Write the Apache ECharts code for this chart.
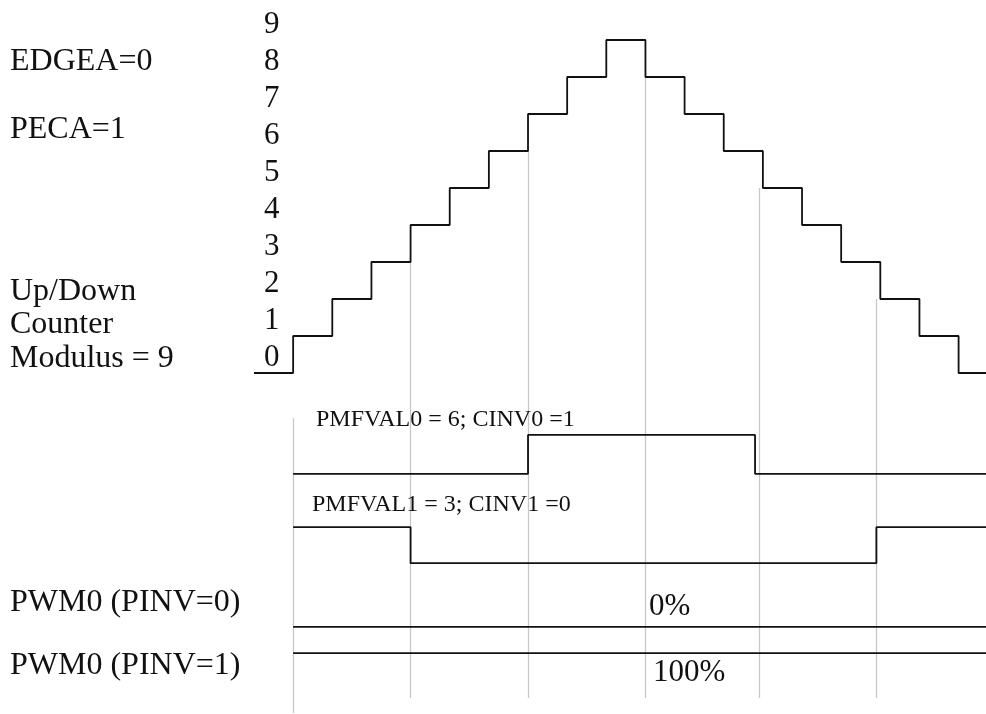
<!DOCTYPE html>
<html>
<head>
<meta charset="utf-8">
<script src="https://cdn.jsdelivr.net/npm/echarts@6/dist/echarts.min.js"></script>
<style>
  body { margin: 0; background: #fff; }
  #main { width: 986px; height: 714px; }
</style>
</head>
<body>
<div id="main"></div>
<script>
// counter (up/down, modulus 9)
var counterTimes = [-1, 0, 1, 2, 3, 4, 5, 6, 7, 8, 9, 10, 11, 12, 13, 14, 15, 16, 17, 17.7];
var counterLevels = [0, 1, 2, 3, 4, 5, 6, 7, 8, 9, 8, 7, 6, 5, 4, 3, 2, 1, 0, 0];
var counterTicks = ["0", "1", "2", "3", "4", "5", "6", "7", "8", "9"];

// grey marker lines: time and the counter level they start from
var markTimes = [3, 6, 9, 11.9, 14.9];
var markLevels = [3, 6, 8, 5, 2];

// channel outputs (0/1)
var pmf0Times = [0, 6, 11.8, 17.7];
var pmf0Bits = [0, 1, 0, 0];
var pmf1Times = [0, 3, 14.9, 17.7];
var pmf1Bits = [1, 0, 1, 1];
var pwmTimes = [0, 17.7];
var pwm0Bits = [0, 0];   // PINV=0 -> 0%
var pwm1Bits = [1, 1];   // PINV=1 -> 100%

var serif = "Liberation Serif";
var black = "#111";

function zipRow(times, bits, base, amp) {
  return times.map(function (t, i) { return [t, base + bits[i] * amp]; });
}

var myChart = echarts.init(document.getElementById("main"));

var greyTop = markTimes.map(function (t, i) {
  return { coords: [[t, markLevels[i]], [t, 0]] };
});
var greyBottom = markTimes.map(function (t) {
  return { coords: [[t, 9.2], [t, 0.43]] };
});
greyBottom.push({ coords: [[0, 7.98], [0, 0.03]] });

function stepLine(data, xi) {
  return {
    type: "line",
    xAxisIndex: xi,
    yAxisIndex: xi,
    step: "end",
    symbol: "none",
    clip: false,
    z: 5,
    lineStyle: { color: black, width: 1.8 },
    data: data
  };
}

function textEl(text, x, y, size) {
  return {
    type: "text",
    x: x,
    y: y,
    z: 10,
    style: {
      text: text,
      fontFamily: serif,
      fontSize: size,
      fill: black,
      verticalAlign: "middle"
    }
  };
}

var option = {
  animation: false,
  backgroundColor: "#fff",
  grid: [
    { left: 254, top: 40, width: 732, height: 333 },
    { left: 254, top: 373, width: 732, height: 341 }
  ],
  xAxis: [
    { gridIndex: 0, type: "value", min: -1, max: 17.7, show: false },
    { gridIndex: 1, type: "value", min: -1, max: 17.7, show: false }
  ],
  yAxis: [
    {
      gridIndex: 0,
      type: "value",
      min: 0,
      max: 9,
      interval: 1,
      axisLine: { show: false },
      axisTick: { show: false },
      splitLine: { show: false },
      axisLabel: {
        inside: true,
        margin: 10,
        fontFamily: serif,
        fontSize: 31,
        lineHeight: 31,
        color: black,
        verticalAlign: "bottom",
        formatter: function (v) { return counterTicks[v]; }
      }
    },
    { gridIndex: 1, type: "value", min: 0, max: 9.2, show: false }
  ],
  series: [
    {
      type: "lines",
      coordinateSystem: "cartesian2d",
      xAxisIndex: 0,
      yAxisIndex: 0,
      z: 1,
      lineStyle: { color: "#c8c8c8", width: 1.3, opacity: 1 },
      data: greyTop
    },
    {
      type: "lines",
      coordinateSystem: "cartesian2d",
      xAxisIndex: 1,
      yAxisIndex: 1,
      z: 1,
      lineStyle: { color: "#c8c8c8", width: 1.3, opacity: 1 },
      data: greyBottom
    },
    stepLine(counterTimes.map(function (t, i) { return [t, counterLevels[i]]; }), 0),
    stepLine(zipRow(pmf0Times, pmf0Bits, 6.48, 1.05), 1),
    stepLine(zipRow(pmf1Times, pmf1Bits, 4.07, 0.97), 1),
    stepLine(zipRow(pwmTimes, pwm0Bits, 2.35, 1), 1),
    stepLine(zipRow(pwmTimes, pwm1Bits, 0.64, 1), 1)
  ],
  graphic: [
    textEl("EDGEA=0", 10, 62, 32),
    textEl("PECA=1", 10, 130, 32),
    textEl("Up/Down", 10, 292, 32),
    textEl("Counter", 10, 325, 32),
    textEl("Modulus = 9", 10, 359, 32),
    textEl("PMFVAL0 = 6; CINV0 =1", 316, 420, 24),
    textEl("PMFVAL1 = 3; CINV1 =0", 312, 505, 24),
    textEl("PWM0 (PINV=0)", 10, 603, 32),
    textEl("PWM0 (PINV=1)", 10, 666, 32),
    textEl("0%", 649, 607, 31),
    textEl("100%", 653, 673, 31)
  ]
};

myChart.setOption(option);
</script>
</body>
</html>
